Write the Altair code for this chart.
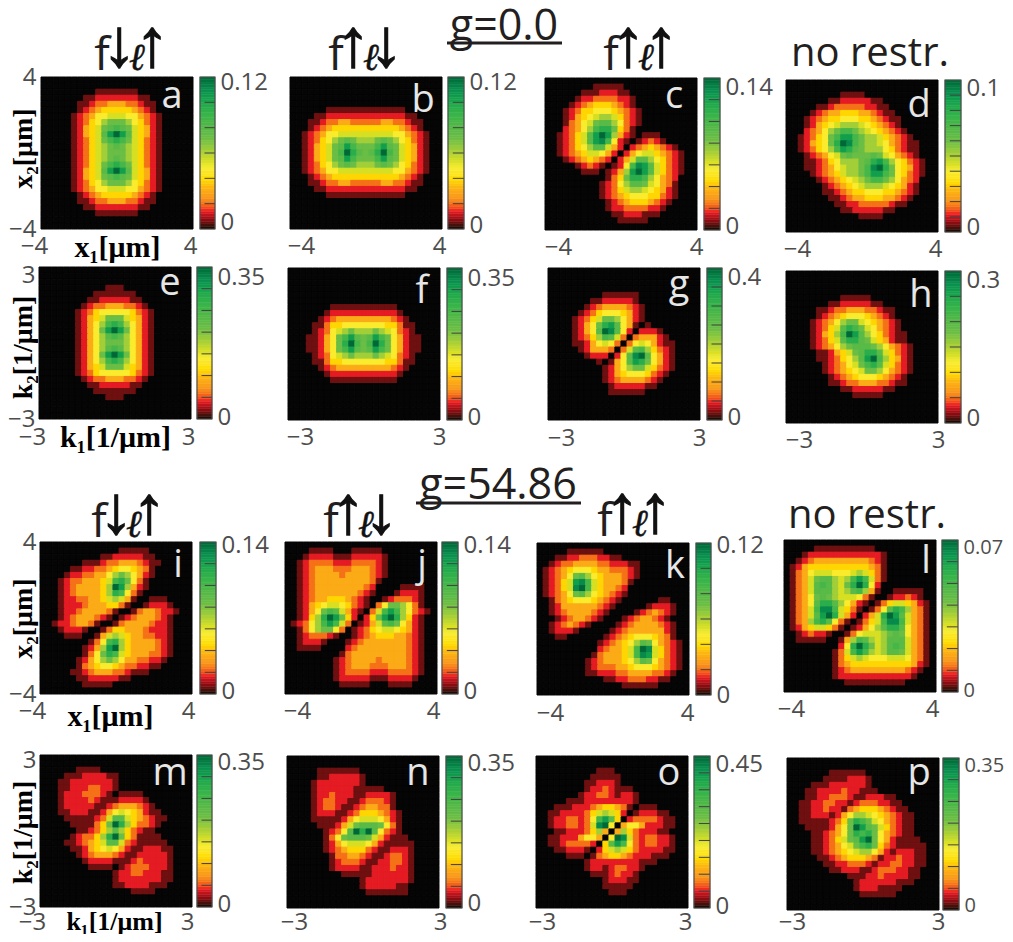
import altair as alt
import pandas as pd

# ---- density, hex levels 0..f (see LEVEL_T) of each panel's colourbar maximum.
# Each list is the top half of a 25x25 grid (row 12 is the middle row); the lower half
# follows from the point symmetry (x1,x2) -> (-x1,-x2) that every panel shows.
A = ["0000000000000000000000000","0000000000000000000000000","0000000001111111000000000","0000000112222222110000000",
     "0000001123344433211000000","0000001234555554321000000","0000012346677766432100000","0000012356899986532100000",
     "00000124579aba97542100000","0000012457adfda7542100000","00000123579bcb97532100000","000001235789a987532100000",
     "0000012357899987532100000"]
C = ["0000000000000000000000000","0000000011111000000000000","0000001112221100000000000","0000012233332210000000000",
     "0000123455543210000000000","0001235566654321000000000","0001245678875321000000000","000134679aa86321000000000",
     "00023468bcc95310000000000","0012357adfd84210111000000","0012357adeb62101232100000","00123568aa742023454321000",
     "0012345776420246775432100"]
D = ["0000000000000000000000000","0000000000000000000000000","0000000001111000000000000","0000000112222211000000000",
     "0000011233333221100000000","0000123445554432110000000","0001234556665543211000000","0001245678887654321000000",
     "000234689bb98765432100000","00123569bddb9887543210000","00124569cfeb9887643211000","00123568bdca9888653211000",
     "0001234679a999a9764321000"]
E = ["0000000000000000000000000","0000000000000000000000000","0000000000000000000000000","0000000000011100000000000",
     "0000000001111111000000000","0000000011222221100000000","0000000123344433210000000","0000001235666665321000000",
     "0000001245799975421000000","00000012468bcb86421000000","00000012469dfd96421000000","00000012468aba86421000000",
     "0000001246899986421000000"]
G = ["0000000000000000000000000","0000000000000000000000000","0000000000000000000000000","0000000000000000000000000",
     "0000000001111110000000000","0000000112222210000000000","0000001234444321000000000","0000012356665421000000000",
     "0000123579986421000000000","000012469cda6410100000000","00001246afea6202221000000","000012358ba73034442100000",
     "0000112467630367642110000"]
H = ["0000000000000000000000000","0000000000000000000000000","0000000000000000000000000","0000000000000000000000000",
     "0000000001111100000000000","0000000112222211000000000","0000011233444332110000000","0000012345666543210000000",
     "0000123468997654321000000","000012357acb9764321000000","000012458bfda865321100000","000012357acca975421100000",
     "00001234689aaa98643210000"]
I = ["0000000000000000000000000","0000000000000111110000000","0000000000112222211000000","0000000111233444321100000",
     "0000011223345665431000000","0000122334468986421000000","000123344457bc96310000000","000123444458fd84210000000",
     "000123444458cb63100000000","0001223344578741001110000","0001222344455310012221000","0001223444431001344322100",
     "0001234443210123444321000"]
J = ["0000000000000000000000000","0000111100011111000000000","0001222211122222100000000","0012333322233332100000000",
     "0012344433344432100000000","0012344443444432100000000","0012344444444431000000000","0012344444444320000111100",
     "0012344444443210001222100","0012344555432100123332100","0012456776532103699863100","0012469ba7421037bdb863210",
     "001258cfd9520259dfc852100"]
K = ["0000000000000000000000000","0000011111100000000000000","0001122333221100000000000","0012334444332221100000000",
     "0123456665443332100000000","0123469a86544432100000000","012357deb7544431000000000","012357efb7544320000000000",
     "0123469a86543210000000000","0013456665432100000011000","0012444444321000001222100","0012344443210000123432100",
     "0001234432100012344321000"]
L = ["0000000000000000000000000","0000011111111110000000000","0001222222222222100000000","0012344444444432100000000",
     "0124555555555543100000000","0134677766678753100000000","013479aa878bdb73100000000","01347aba879cfc62000000000",
     "01347aaa878ab841001111100","013469a987776310012232100","01346acca8642101357754210","01347beeb75310136acb84310",
     "01347adfc7420247cfda74310"]
M = ["0000000000000000000000000","0000000000000000000000000","0000001111000000000000000","0000111222211000000000000",
     "0001122222221000000000000","0001122233221000000000000","0001222333210111100000000","0001222232111222210000000",
     "0001222221123444321000000","0001122211246765421100000","000011111237aa75432110000","000001111359fc85332100000",
     "000000112358a853211000000"]
N = ["0000000000000000000000000","0000000000000000000000000","0000011111110000000000000","0000011222221000000000000",
     "0000122222221000000000000","0000122222211111000000000","0000122322211222210000000","0000123322112333210000000",
     "0000123321123443310000000","0000122211235554321000000","0000111112467776421000000","000001112479aaa9631000000",
     "0000001236afcfa6321000000"]
O = ["0000000000000000000000000","0000000000000000000000000","0000000000111000000000000","0000000001111100000000000",
     "0000000011222100000000000","0000000012232111000000000","0000000122332122100000000","0000011122222222100000000",
     "0001112223455431011100000","0011222235787520122211000","0012233236bda502333321100","0012233237ef6046642221100",
     "0001122235840485322211000"]
P = ["0000000000000000000000000","0000000000000000000000000","0000000111111000000000000","0000001111222100000000000",
     "0000111222222100000000000","0001122223221110000000000","0001122333211222110000000","0011223322123332211000000",
     "0011223221345554321100000","0011222124688765432110000","00111112359cb976432110000","00011112469fda97532110000",
     "00001123469cbc96432110000"]

N_CELLS = 25
LEVEL_T = [0, .045, .115, .17, .25, .32, .39, .45, .52, .6, .66, .72, .8, .87, .93, 1]


def full_grid(half):
    rows = [r.ljust(N_CELLS, "0")[:N_CELLS] for r in half]
    return rows + [r[::-1] for r in rows[-2::-1]]


def swapped(grid):  # panels b and f are panels a and e with x1 and x2 exchanged
    return ["".join(c) for c in zip(*grid)]


GRIDS = dict(a=full_grid(A), c=full_grid(C), d=full_grid(D), e=full_grid(E), g=full_grid(G), h=full_grid(H),
             i=full_grid(I), j=full_grid(J), k=full_grid(K), l=full_grid(L), m=full_grid(M), n=full_grid(N),
             o=full_grid(O), p=full_grid(P))
GRIDS["b"] = swapped(GRIDS["a"])
GRIDS["f"] = swapped(GRIDS["e"])

# ---- colourbar values
CB_MAX = dict(a=.12, b=.12, c=.14, d=.1, e=.35, f=.35, g=.4, h=.3, i=.14, j=.14, k=.12, l=.07, m=.35, n=.35, o=.45, p=.35)
CB_INTERVALS = dict(a=6, b=6, c=7, d=10, e=7, f=7, g=8, h=6, i=7, j=7, k=6, l=7, m=7, n=7, o=9, p=7)
CB_STEPS = 60

# ---- colour map of the colourbars
STOPS = [0, .05, .12, .2, .28, .33, .40, .45, .5, .6, .75, .85, .92, 1]
COLORS = ["#050505", "#7a0c10", "#ed1c24", "#f7941d", "#fdb913", "#ffdd00", "#f9ed32", "#d7df23", "#b0d235",
          "#6abd45", "#39b54a", "#17a54b", "#0a8f4e", "#006837"]

# ---- layout (picture pixels): panel left, panel top, bar left, bar right, offset of the
# low / high x tick label, gap under the panel, offset of top / bottom bar label
W, H_, MARGIN, SIZE = 997, 926, 8, 152
LAYOUT = dict(
    a=(41, 77, 200, 215, -7, -3, 7, 5, -7), b=(290, 77, 448, 464, 11, -3, 7, 5, -4),
    c=(545, 78, 704, 720, 13, -1, 7, 9, -4), d=(786, 80, 945, 961, 11, -3, 7, 8, -5),
    e=(39, 267, 197, 212, -7, -3, 8, 10, -2), f=(288, 268, 447, 462, 12, -1, 7, 10, -3),
    g=(548, 268, 707, 722, 13, -1, 8, 9, -3), h=(786, 271, 945, 961, 13, 0, 7, 9, -5),
    i=(40, 542, 200, 216, -8, -4, 7, 3, -3), j=(285, 542, 442, 458, 12, -4, 7, 3, -3),
    k=(537, 543, 696, 711, 13, -2, 8, 2, 0), l=(784, 540, 942, 958, 7, -4, 7, 7, -2),
    m=(40, 755, 197, 212, -8, -5, 5, 7, -3), n=(287, 756, 446, 462, 7, 1, 4, 7, -5),
    o=(536, 756, 694, 710, 6, -3, 4, 8, -2), p=(787, 758, 943, 959, 5, -1, 2, 7, -5),
)
LETTERS = dict(a=(172, 108), b=(423, 112), c=(674, 108), d=(919, 117), e=(170, 295), f=(422, 303), g=(679, 297),
               h=(921, 307), i=(178, 577), j=(422, 577), k=(675, 578), l=(926, 573), m=(170, 785), n=(418, 785),
               o=(669, 785), p=(919, 785))
# y-axis labels and titles of the first column: label gap, shift of the upper label, title, centre x, centre y
Y_AXES = dict(a=(5, 0, "x₂[μm]", 23, 148), e=(4, 8, "k₂[1/μm]", 23, 347), i=(4, 0, "x₂[μm]", 23, 618),
              m=(4, 5, "k₂[1/μm]", 23, 832))
X_TITLES = dict(a=("x₁[μm]", 117, 247, 30), e=("k₁[1/μm]", 115, 437, 30), i=("x₁[μm]", 110, 716, 30),
                m=("k₁[1/μm]", 114, 921, 26))
HEADS = [("f", "↓", "ℓ", "↑", 128, 70), ("f", "↑", "ℓ", "↓", 362, 70), ("f", "↑", "ℓ", "↑", 637, 70),
         ("f", "↓", "ℓ", "↑", 125, 537), ("f", "↑", "ℓ", "↓", 357, 537), ("f", "↑", "ℓ", "↑", 631, 536)]
NO_RESTR = [("no restr.", 870, 66), ("no restr.", 867, 528)]
G_TITLES = [("g=0.0", 504, 40, 447, 562, 43), ("g=54.86", 498, 499, 416, 581, 503)]

TICK_COLOR, LETTER_COLOR, TEXT_COLOR = "#4d4d4d", "#e6e6e6", "#231f20"
SANS, SERIF = "Open Sans", "Liberation Serif"

cscale = alt.Scale(domain=STOPS, range=COLORS, clamp=True)


def label(text, x, y, size, color, font=SANS, **kw):
    return alt.Chart(pd.DataFrame({"label": [text]})).mark_text(
        font=font, fontSize=size, color=color, align="center", baseline="alphabetic", **kw
    ).encode(x=alt.value(x - MARGIN), y=alt.value(y - MARGIN), text="label:N")


def panel_layers(name):
    px0, py0, cb0, cb1, off_lo, off_hi, gap, off_top, off_bot = LAYOUT[name]
    grid = GRIDS[name]
    dom = 4 if name in "abcdijkl" else 3
    cell = 2 * dom / N_CELLS
    rows = []
    for j, row in enumerate(grid):
        for i, ch in enumerate(row):
            rows.append(dict(x0=-dom + i * cell, x1=-dom + (i + 1) * cell,
                             y1=dom - j * cell, y0=dom - (j + 1) * cell, t=LEVEL_T[int(ch, 16)]))
    df = pd.DataFrame(rows)

    x_axis = dict(values=[-dom, dom], orient="bottom", offset=py0 + SIZE - MARGIN - H_, domain=False, ticks=False, grid=False,
                  labelFont=SANS, labelFontSize=24, labelColor=TICK_COLOR, labelPadding=gap - 2, labelAlign="center",
                  labelOverlap=False, labelFlush=False, labelBound=False, format="d",
                  labelOffset={"condition": {"test": "datum.value < 0", "value": off_lo}, "value": off_hi}, title=None)
    if name in X_TITLES:
        t, cx, cy, ts = X_TITLES[name]
        x_axis.update(title=t, titleFont=SERIF, titleFontSize=ts, titleFontWeight="bold", titleColor="#000000",
                      titleX=cx - MARGIN, titleY=cy - (py0 + SIZE), titleBaseline="middle", titleAlign="center")
    if name in Y_AXES:
        g, shift, t, cx, cy = Y_AXES[name]
        y_axis = alt.Axis(values=[-dom, dom], orient="left", offset=MARGIN - px0, domain=False, ticks=False, grid=False,
                          labelFont=SANS, labelFontSize=24, labelColor=TICK_COLOR, labelPadding=g, labelAlign="right",
                          labelBaseline="middle", labelOverlap=False, labelFlush=False, labelBound=False, format="d",
                          labelOffset={"condition": {"test": "datum.value > 0", "value": shift}, "value": 0},
                          title=t, titleFont=SERIF, titleFontSize=28, titleFontWeight="bold", titleColor="#000000",
                          titleX=cx - px0, titleY=cy - MARGIN, titleBaseline="middle", titleAlign="center", titleAngle=270)
    else:
        y_axis = None

    sx = alt.Scale(domain=[-dom, dom], range=[px0 - MARGIN, px0 + SIZE - MARGIN])
    sy = alt.Scale(domain=[-dom, dom], range=[py0 + SIZE - MARGIN, py0 - MARGIN])
    heat = alt.Chart(df).mark_rect(strokeWidth=1).encode(
        x=alt.X("x0:Q", scale=sx, axis=alt.Axis(**x_axis)), x2="x1:Q",
        y=alt.Y("y0:Q", scale=sy, axis=y_axis), y2="y1:Q",
        color=alt.Color("t:Q", scale=cscale, legend=None),
        stroke=alt.Stroke("t:Q", scale=cscale, legend=None),
    )

    mx = CB_MAX[name]
    bx = alt.Scale(domain=[0, 1], range=[cb0 - MARGIN, cb1 - MARGIN])
    by = alt.Scale(domain=[0, mx], range=[py0 + SIZE - MARGIN, py0 - MARGIN])
    bar_df = pd.DataFrame([dict(a=k / CB_STEPS * mx, b=(k + 1) / CB_STEPS * mx, t=(k + .5) / CB_STEPS, l=0, r=1)
                           for k in range(CB_STEPS)])
    bar_axis = alt.Axis(values=[0, mx], orient="right", offset=cb1 - MARGIN - W, domain=False, ticks=False, grid=False,
                        labelFont=SANS, labelFontSize=20 if name in "lp" else 24, labelColor=TICK_COLOR,
                        labelPadding=5, labelAlign="left",
                        labelBaseline="middle", labelOverlap=False, labelFlush=False, labelBound=False, format=".2~f",
                        labelOffset={"condition": {"test": "datum.value > 0", "value": off_top}, "value": off_bot}, title=None)
    bar = alt.Chart(bar_df).mark_rect(strokeWidth=0.5).encode(
        x=alt.X("l:Q", scale=bx, axis=None), x2="r:Q",
        y=alt.Y("a:Q", scale=by, axis=bar_axis), y2="b:Q",
        color=alt.Color("t:Q", scale=cscale, legend=None),
        stroke=alt.Stroke("t:Q", scale=cscale, legend=None),
    )
    ticks_df = pd.DataFrame([dict(v=k * mx / CB_INTERVALS[name], l=.3, r=1) for k in range(1, CB_INTERVALS[name])])
    ticks = alt.Chart(ticks_df).mark_rule(color="#404040", strokeWidth=1).encode(
        x=alt.X("l:Q", scale=bx, axis=None), x2="r:Q", y=alt.Y("v:Q", scale=by, axis=None))
    box = alt.Chart(pd.DataFrame([dict(l=0, r=1, a=0, b=mx)])).mark_rect(
        fillOpacity=0, stroke=TICK_COLOR, strokeWidth=1.2).encode(
        x=alt.X("l:Q", scale=bx, axis=None), x2="r:Q", y=alt.Y("a:Q", scale=by, axis=None), y2="b:Q")
    lx, ly = LETTERS[name]
    return [heat, bar, ticks, box, label(name, lx, ly, 38, LETTER_COLOR)]


layers = []
for nm in "abcdefghijklmnop":
    layers += panel_layers(nm)
for f_, a1, l_, a2, x, y in HEADS:
    layers.append(label(f_, x - 26, y, 46, TEXT_COLOR))
    layers.append(label(a1, x - 9, y - 4, 68, "#111111", font="Liberation Sans", fontWeight="bold",
                        stroke="#111111", strokeWidth=1.2))
    layers.append(label(l_, x + 9, y, 38, "#111111", font="Liberation Serif", fontStyle="italic",
                        stroke="#111111", strokeWidth=0.5))
    layers.append(label(a2, x + 24, y - 4, 68, "#111111", font="Liberation Sans", fontWeight="bold",
                        stroke="#111111", strokeWidth=1.2))
for t, x, y in NO_RESTR:
    layers.append(label(t, x, y, 40, TEXT_COLOR))
for t, x, y, x0, x1, yl in G_TITLES:
    layers.append(label(t, x, y, 43, TEXT_COLOR))
    layers.append(alt.Chart(pd.DataFrame({"k": [t]})).mark_rule(color=TEXT_COLOR, strokeWidth=3).encode(
        x=alt.value(x0 - MARGIN), x2=alt.value(x1 - MARGIN), y=alt.value(yl - MARGIN)))

chart = alt.layer(*layers).resolve_scale(x="independent", y="independent").properties(
    width=W, height=H_, padding=0, autosize=alt.AutoSizeParams(type="none"), background="white"
).configure_view(stroke=None)

chart.save("out.html", embed_options={"renderer": "svg", "actions": False})
